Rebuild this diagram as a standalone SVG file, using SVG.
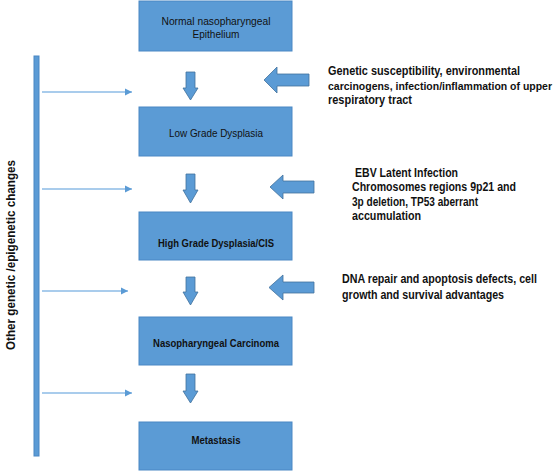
<svg xmlns="http://www.w3.org/2000/svg" width="560" height="476" viewBox="0 0 560 476">
<style>
.box{fill:#5B9BD5;stroke:#4A87C4;stroke-width:1}
.fat{fill:#5B9BD5;stroke:#41719C;stroke-width:0.8}
.thin{stroke:#8DBBE6;stroke-width:1.3;fill:none}
.bt{font-family:"Liberation Sans",Arial,sans-serif;font-size:10.5px;fill:#111;text-anchor:middle}
.bb{font-family:"Liberation Sans",Arial,sans-serif;font-size:10.5px;font-weight:bold;fill:#111;text-anchor:middle}
.rt{font-family:"Liberation Sans",Arial,sans-serif;font-size:12px;font-weight:bold;fill:#111}
</style>
<defs>
<marker id="ah" markerWidth="8" markerHeight="8" refX="7" refY="4" orient="auto" markerUnits="userSpaceOnUse">
<path d="M0,0.5 L7,4 L0,7.5 Z" fill="#5B9BD5"/>
</marker>
</defs>
<rect width="560" height="476" fill="#fff"/>
<g id="connectors">
<polygon class="fat" points="186,72 195,72 195,88 198,88 190.5,100 183,88 186,88"/>
<polygon class="fat" points="186,174 195,174 195,190 198,190 190.5,203 183,190 186,190"/>
<polygon class="fat" points="186,277 195,277 195,292 198,292 190.5,305 183,292 186,292"/>
<polygon class="fat" points="186,374 195,374 195,391 198,391 190.5,403 183,391 186,391"/>
<polygon class="fat" points="264,80 277,67 277,74 309,74 309,86 277,86 277,93"/>
<polygon class="fat" points="270,187 283,175 283,181 314,181 314,193 283,193 283,199"/>
<polygon class="fat" points="269,287.5 283,275 283,282 314,282 314,293 283,293 283,300"/>
<line class="thin" x1="42" y1="92" x2="132" y2="92" marker-end="url(#ah)"/>
<line class="thin" x1="42" y1="189" x2="132" y2="189" marker-end="url(#ah)"/>
<line class="thin" x1="42" y1="291" x2="128" y2="291" marker-end="url(#ah)"/>
<line class="thin" x1="42" y1="393" x2="132" y2="393" marker-end="url(#ah)"/>
</g>
<g id="side">
<rect x="34" y="56" width="5" height="400" class="box"/>
<text class="rt" transform="translate(15,255) rotate(-90)" text-anchor="middle" style="font-size:12.5px" textLength="190" lengthAdjust="spacingAndGlyphs">Other genetic /epigenetic changes</text>
</g>
<g id="n1">
<rect class="box" x="139" y="1" width="153" height="50"/>
<text class="bt" x="216" y="25" textLength="109" lengthAdjust="spacingAndGlyphs">Normal nasopharyngeal</text>
<text class="bt" x="216" y="38" textLength="47" lengthAdjust="spacingAndGlyphs">Epithelium</text>
</g>
<g id="n2">
<rect class="box" x="139" y="107" width="153" height="49"/>
<text class="bt" x="216" y="137" textLength="94" lengthAdjust="spacingAndGlyphs">Low Grade Dysplasia</text>
</g>
<g id="n3">
<rect class="box" x="139" y="212" width="153" height="48"/>
<text class="bb" x="216" y="247" textLength="116" lengthAdjust="spacingAndGlyphs">High Grade Dysplasia/CIS</text>
</g>
<g id="n4">
<rect class="box" x="139" y="317" width="153" height="48"/>
<text class="bb" x="216" y="347" textLength="126" lengthAdjust="spacingAndGlyphs">Nasopharyngeal Carcinoma</text>
</g>
<g id="n5">
<rect class="box" x="139" y="422" width="153" height="48"/>
<text class="bb" x="216" y="444" textLength="49" lengthAdjust="spacingAndGlyphs">Metastasis</text>
</g>
<g id="t1">
<text class="rt" x="328" y="75" textLength="192" lengthAdjust="spacingAndGlyphs">Genetic susceptibility, environmental</text>
<text class="rt" x="328" y="90" style="font-size:10.5px" textLength="224" lengthAdjust="spacingAndGlyphs">carcinogens, infection/inflammation of upper</text>
<text class="rt" x="328" y="104" textLength="84" lengthAdjust="spacingAndGlyphs">respiratory tract</text>
</g>
<g id="t2">
<text class="rt" x="355" y="177" textLength="103" lengthAdjust="spacingAndGlyphs">EBV Latent Infection</text>
<text class="rt" x="352" y="191" textLength="164" lengthAdjust="spacingAndGlyphs">Chromosomes regions 9p21 and</text>
<text class="rt" x="352" y="206" textLength="126" lengthAdjust="spacingAndGlyphs">3p deletion, TP53 aberrant</text>
<text class="rt" x="352" y="220" textLength="69" lengthAdjust="spacingAndGlyphs">accumulation</text>
</g>
<g id="t3">
<text class="rt" x="342" y="283" textLength="195" lengthAdjust="spacingAndGlyphs">DNA repair and apoptosis defects, cell</text>
<text class="rt" x="342" y="299" textLength="162" lengthAdjust="spacingAndGlyphs">growth and survival advantages</text>
</g>
</svg>
